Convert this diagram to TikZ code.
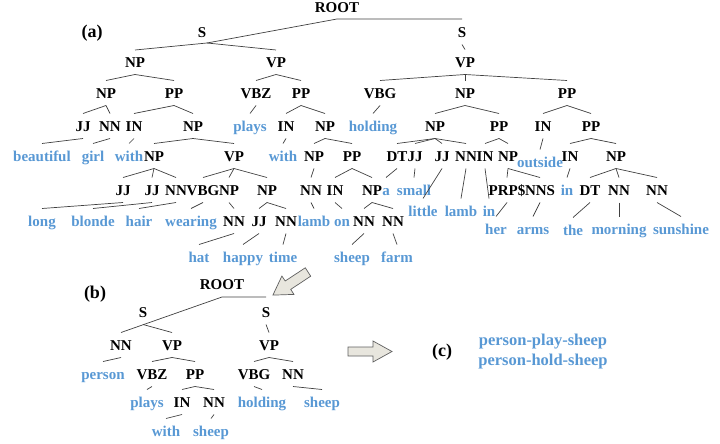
\documentclass[tikz,border=0pt]{standalone}
\usepackage{fontspec}
\setmainfont{Liberation Serif}
\definecolor{wblue}{RGB}{88,152,212}
\definecolor{arrfill}{RGB}{232,230,222}
\definecolor{arrline}{RGB}{95,95,95}
\tikzset{
 cat/.style={font=\fontsize{15}{16}\selectfont\bfseries, text=black, inner sep=0pt, text height=9.6pt, text depth=0pt},
 wd/.style={cat, text=wblue},
 lab/.style={font=\fontsize{18}{20}\selectfont\bfseries, text=black, inner sep=0pt},
 rel/.style={font=\fontsize{16.5}{18}\selectfont\bfseries, text=wblue, inner sep=0pt},
 br/.style={draw=black!75, line width=0.7pt},
 barrow/.style={fill=arrfill, draw=arrline, line width=0.7pt, line join=miter},
}
\newcommand\conn[2]{\draw[br] ([yshift=-6.5pt]#1.south) -- ([yshift=8.5pt]#2.north);}
\begin{document}
\begin{tikzpicture}[x=1pt,y=-1pt]
\useasboundingbox (0,0) rectangle (720,444);
% ---------------- (a) ----------------
\node[lab] (la) at (92,33) {(a)};
\node[cat] (root1) at (337,8) {ROOT};
\node[cat] (sL) at (202,33) {S};
\node[cat] (sR) at (462,33) {S};
\node[cat] (np1) at (135,63) {NP};
\node[cat] (vp1) at (276,63) {VP};
\node[cat] (vp2) at (465,63) {VP};
\node[cat] (np2) at (106,94) {NP};
\node[cat] (pp1) at (174,94) {PP};
\node[cat] (vbz) at (256,94) {VBZ};
\node[cat] (pp2) at (301,94) {PP};
\node[cat] (vbg) at (380,94) {VBG};
\node[cat] (np3) at (465,94) {NP};
\node[cat] (pp3) at (567,94) {PP};
\node[cat] (jj1) at (83,127) {JJ};
\node[cat] (nn1) at (110,127) {NN};
\node[cat] (in1) at (134,127) {IN};
\node[cat] (np4) at (193,127) {NP};
\node[wd]  (plays) at (250,127) {plays};
\node[cat] (in2) at (286,127) {IN};
\node[cat] (np5) at (325,127) {NP};
\node[wd]  (holding) at (373,127) {holding};
\node[cat] (np6) at (435,127) {NP};
\node[cat] (pp4) at (499,127) {PP};
\node[cat] (in3) at (543,127) {IN};
\node[cat] (pp5) at (591,127) {PP};
\node[wd]  (beautiful) at (42,157) {beautiful};
\node[wd]  (girl) at (93,157) {girl};
\node[wd]  (with1) at (129,157) {with};
\node[cat] (np7) at (154,157) {NP};
\node[cat] (vp3) at (234,157) {VP};
\node[wd]  (with2) at (283,157) {with};
\node[cat] (np8) at (314,157) {NP};
\node[cat] (pp6) at (352,157) {PP};
\node[cat] (dt1) at (397,157) {DT};
\node[cat] (jj2) at (415,157) {JJ};
\node[cat] (jj3) at (442,157) {JJ};
\node[cat] (nn2) at (466,157) {NN};
\node[cat] (in4) at (485,157) {IN};
\node[cat] (np9) at (508,157) {NP};
\node[wd]  (outside) at (540,163) {outside};
\node[cat] (in5) at (570,157) {IN};
\node[cat] (np10) at (616,157) {NP};
\node[cat] (jj4) at (123,191) {JJ};
\node[cat] (jj5) at (152,191) {JJ};
\node[cat] (nn3) at (176,191) {NN};
\node[cat] (vbg2) at (203,191) {VBG};
\node[cat] (np11) at (229,191) {NP};
\node[cat] (np12) at (267,191) {NP};
\node[cat] (nn4) at (311,191) {NN};
\node[cat] (in6) at (335,191) {IN};
\node[cat] (np13) at (372,191) {NP};
\node[wd]  (wa) at (386,191) {a};
\node[wd]  (small) at (414,191) {small};
\node[cat] (prp) at (507,191) {PRP\$};
\node[cat] (nns) at (540,191) {NNS};
\node[wd]  (in7) at (567,191) {in};
\node[cat] (dt2) at (590,191) {DT};
\node[cat] (nn5) at (619,191) {NN};
\node[cat] (nn6) at (657,191) {NN};
\node[wd]  (little) at (423,212) {little};
\node[wd]  (lamb2) at (461,212) {lamb};
\node[wd]  (in8) at (489,212) {in};
\node[wd]  (long) at (42,222) {long};
\node[wd]  (blonde) at (93,222) {blonde};
\node[wd]  (hair) at (139,222) {hair};
\node[wd]  (wearing) at (191,222) {wearing};
\node[cat] (nn7) at (234,222) {NN};
\node[cat] (jj6) at (259,222) {JJ};
\node[cat] (nn8) at (286,222) {NN};
\node[wd]  (lamb1) at (314,222) {lamb};
\node[wd]  (on) at (342,222) {on};
\node[cat] (nn9) at (364,222) {NN};
\node[cat] (nn10) at (393,222) {NN};
\node[wd]  (her) at (496,230) {her};
\node[wd]  (arms) at (533,230) {arms};
\node[wd]  (the) at (573,231) {the};
\node[wd]  (morning) at (619,230) {morning};
\node[wd]  (sunshine) at (681,230) {sunshine};
\node[wd]  (hat) at (199,258) {hat};
\node[wd]  (happy) at (243,258) {happy};
\node[wd]  (time) at (283,258) {time};
\node[wd]  (sheep1) at (352,258) {sheep};
\node[wd]  (farm) at (397,258) {farm};
% connectors (a)
\draw[br] ([xshift=5pt,yshift=-5pt]sL.south) -- ([yshift=-6pt]root1.south) -- ([yshift=-6pt]root1.south -| sR.north);
\draw[br] ([xshift=5pt,yshift=-5pt]sL.south) -- ([yshift=8pt]np1.north);
\draw[br] ([xshift=5pt,yshift=-5pt]sL.south) -- ([yshift=8pt]vp1.north);
\conn{sR}{vp2}
\conn{np1}{np2}\conn{np1}{pp1}
\conn{vp1}{vbz}\conn{vp1}{pp2}
\conn{vp2}{vbg}\conn{vp2}{np3}\conn{vp2}{pp3}
\conn{np2}{jj1}\conn{np2}{nn1}
\conn{pp1}{in1}\conn{pp1}{np4}
\conn{vbz}{plays}
\conn{pp2}{in2}\conn{pp2}{np5}
\conn{vbg}{holding}
\conn{np3}{np6}\conn{np3}{pp4}
\conn{pp3}{in3}\conn{pp3}{pp5}
\conn{jj1}{beautiful}\conn{nn1}{girl}\conn{in1}{with1}
\conn{np4}{np7}\conn{np4}{vp3}
\conn{in2}{with2}
\conn{np5}{np8}\conn{np5}{pp6}
\conn{np6}{dt1}\conn{np6}{jj2}\conn{np6}{jj3}\conn{np6}{nn2}
\conn{pp4}{in4}\conn{pp4}{np9}
\conn{in3}{outside}
\conn{pp5}{in5}\conn{pp5}{np10}
\conn{np7}{jj4}\conn{np7}{jj5}\conn{np7}{nn3}
\conn{vp3}{vbg2}\conn{vp3}{np11}\conn{vp3}{np12}
\conn{np8}{nn4}
\conn{pp6}{in6}\conn{pp6}{np13}
\conn{dt1}{wa}\conn{jj2}{small}\conn{jj3}{little}\conn{nn2}{lamb2}\conn{in4}{in8}
\conn{np9}{prp}\conn{np9}{nns}
\conn{in5}{in7}
\conn{np10}{dt2}\conn{np10}{nn5}\conn{np10}{nn6}
\conn{jj4}{long}\conn{jj5}{blonde}\conn{nn3}{hair}\conn{vbg2}{wearing}
\conn{np11}{nn7}\conn{np12}{jj6}\conn{np12}{nn8}
\conn{nn4}{lamb1}\conn{in6}{on}
\conn{np13}{nn9}\conn{np13}{nn10}
\conn{nn7}{hat}\conn{jj6}{happy}\conn{nn8}{time}
\conn{nn9}{sheep1}\conn{nn10}{farm}
\conn{prp}{her}\conn{nns}{arms}\conn{dt2}{the}\conn{nn5}{morning}\conn{nn6}{sunshine}
% ---------------- (b) ----------------
\node[lab] (lb) at (95,294) {(b)};
\node[cat] (root2) at (222,285) {ROOT};
\node[cat] (sL2) at (143,313) {S};
\node[cat] (sR2) at (266,313) {S};
\node[cat] (nnb1) at (121,346) {NN};
\node[cat] (vpb1) at (172,346) {VP};
\node[cat] (vpb2) at (269,346) {VP};
\node[wd]  (person) at (103,375) {person};
\node[cat] (vbzb) at (152,375) {VBZ};
\node[cat] (ppb) at (195,375) {PP};
\node[cat] (vbgb) at (254,375) {VBG};
\node[cat] (nnb2) at (293,375) {NN};
\node[wd]  (playsb) at (147,403) {plays};
\node[cat] (inb) at (182,403) {IN};
\node[cat] (nnb3) at (214,403) {NN};
\node[wd]  (holdingb) at (262,403) {holding};
\node[wd]  (sheepb1) at (322,403) {sheep};
\node[wd]  (withb) at (166,432) {with};
\node[wd]  (sheepb2) at (211,432) {sheep};
\draw[br] ([yshift=8.5pt]nnb1.north) -- ([yshift=-7pt]root2.south) -- ([yshift=-7pt]root2.south -| sR2.north);
\conn{sL2}{vpb1}
\conn{sR2}{vpb2}
\conn{nnb1}{person}
\conn{vpb1}{vbzb}\conn{vpb1}{ppb}
\conn{vpb2}{vbgb}\conn{vpb2}{nnb2}
\conn{vbzb}{playsb}
\conn{ppb}{inb}\conn{ppb}{nnb3}
\conn{vbgb}{holdingb}\conn{nnb2}{sheepb1}
\conn{inb}{withb}\conn{nnb3}{sheepb2}
% ---------------- (c) ----------------
\node[lab] (lc) at (442,352) {(c)};
\node[rel] (t1) at (543,342) {person-play-sheep};
\node[rel] (t2) at (543,362) {person-hold-sheep};
% block arrows
\draw[barrow] (310.7,276.2) -- (290.7,289.4) -- (294.0,294.4) -- (272.9,295.1) -- (281.9,276.0) -- (285.2,281.0) -- (305.3,267.8) -- cycle;
\draw[barrow] (348,347) -- (373,347) -- (373,341) -- (392,351.5) -- (373,362) -- (373,356) -- (348,356) -- cycle;
\end{tikzpicture}
\end{document}
